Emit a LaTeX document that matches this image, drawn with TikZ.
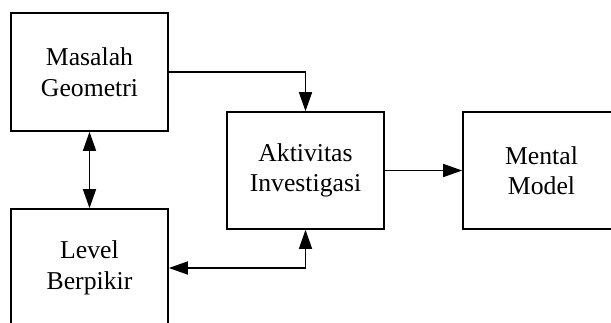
\documentclass[tikz,border=0pt]{standalone}
\usepackage{fontspec}
\setmainfont{Liberation Serif}
\usetikzlibrary{arrows.meta}
\begin{document}
\begin{tikzpicture}[x=1pt,y=-1pt,
  box/.style={draw,line width=1.6pt,minimum width=157pt,minimum height=118pt,inner sep=0pt,
    align=center,font=\fontsize{25.7}{30.5}\selectfont},
  conn/.style={line width=1.5pt,-{Triangle[length=19pt,width=13pt]}},
  bconn/.style={line width=1.5pt,{Triangle[length=19pt,width=13pt]}-{Triangle[length=19pt,width=13pt]}}]
\useasboundingbox (0,0) rectangle (611,322);
\clip (0,0) rectangle (611,322);
\node[box] (m) at (89.5,72) {Masalah\\Geometri};
\node[box] (l) at (89.5,268) {Level\\Berpikir};
\node[box,minimum height=117pt] (a) at (305.5,170.5) {Aktivitas\\Investigasi};
\node[box,minimum height=117pt] (mm) at (541.5,170.5) {Mental\\Model};
\draw[conn] (m.east) -| (a.north);
\draw[conn] (a.east) -- (mm.west);
\draw[bconn] (m.south) -- (l.north);
\draw[bconn] (l.east) -| (a.south);
\end{tikzpicture}
\end{document}
